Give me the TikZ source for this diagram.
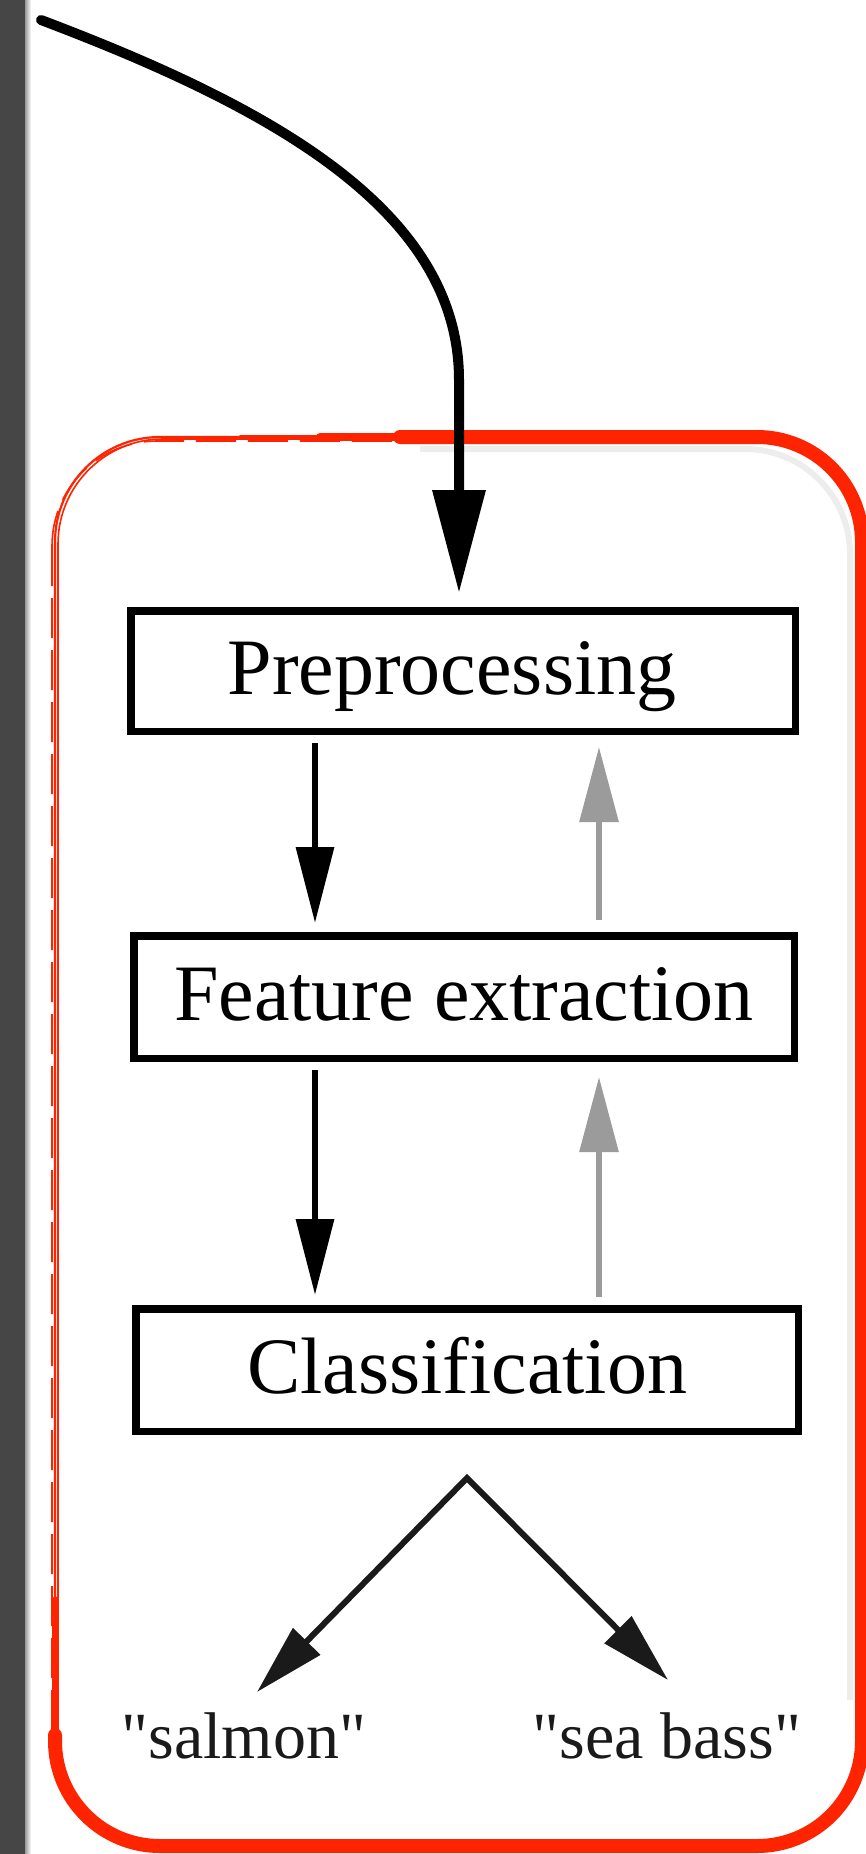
\documentclass[tikz,border=0pt]{standalone}
\usepackage{fontspec}
\setmainfont{Liberation Serif}
\newfontfamily\plainquotes{Liberation Serif}[Ligatures=TeXOff]
\usetikzlibrary{arrows.meta}

\definecolor{sketchred}{RGB}{255,36,0}
\definecolor{barGray}{RGB}{70,70,70}
\definecolor{fbGray}{RGB}{155,155,155}
\definecolor{inkBlack}{RGB}{26,26,26}

\begin{document}
\begin{tikzpicture}[x=1pt, y=-1pt,
  stage/.style={draw=black, line width=7.5pt, rectangle, inner sep=0pt,
    font=\fontsize{80}{90}\selectfont, text height=60pt, text depth=14pt},
  flow/.style={draw=black, line width=6.5pt, -{Triangle[length=76pt,width=37pt]}},
  feedback/.style={draw=fbGray, line width=6pt, -{Triangle[length=75pt,width=38pt]}},
  decision/.style={draw=inkBlack, line width=6pt, line join=miter,
    {Triangle[length=71pt,width=37pt]}-{Triangle[length=71pt,width=37pt]}},
  outcome/.style={font=\plainquotes\fontsize{66}{70}\selectfont, text=inkBlack, inner sep=0pt, anchor=base},
  redthin/.style={draw=sketchred, line width=2.2pt, rounded corners=105pt},
  redthick/.style={draw=sketchred, line width=14pt, rounded corners=105pt, line cap=round},
]
\useasboundingbox (0,0) rectangle (866,1854);
\fill[white] (0,0) rectangle (866,1854);

% dark strip on the left edge
\fill[barGray] (0,0) rectangle (25,1854);
\shade[left color=barGray!55, right color=white] (25,0) rectangle (31,1854);

% hand-drawn red frame: soft shadow, thin sketch strokes, heavy stroke
\draw[black, opacity=0.07, line width=6pt, rounded corners=105pt]
  (420,449) -- (850,449) -- (850,1700);
\draw[redthin] (55,437) rectangle (862,1846);
\draw[redthin, line width=1.6pt] (58,439) rectangle (860,1848);
\draw[redthin, line width=1.6pt, dash pattern=on 40pt off 12pt] (52,441) rectangle (863,1844);
\draw[sketchred, line width=3pt, line cap=round] (240,436) -- (330,436);
\draw[sketchred, line width=8pt, line cap=round] (320,437) -- (420,437);
\draw[redthick] (400,437) -- (862,437) -- (862,1846) -- (55,1846) -- (55,1735);
\draw[sketchred, line width=7pt, line cap=round] (55,1745) -- (55,1600);

% processing stages
\node[stage, minimum width=664.5pt, minimum height=120.5pt] (pre) at (463,671) {Preprocessing\kern22pt};
\node[stage, minimum width=660.5pt, minimum height=122.5pt] (feat) at (464,997) {Feature extraction};
\node[stage, minimum width=662.5pt, minimum height=122.5pt] (cls) at (467,1370) {Classification};

% outcomes
\node[outcome] (salmon) at (244,1758) {"salmon"};
\node[outcome] (bass) at (667,1758) {"sea bass"};

% helper points
\coordinate (src) at (41,20);
\coordinate (inx) at (459,0);
\coordinate (leftx) at (315,0);
\coordinate (rightx) at (599,0);
\coordinate (split) at (467,1478);
\coordinate (tipS) at (257,1692);
\coordinate (tipB) at (668,1680);

% incoming input
\draw[line width=10pt, line cap=round, -{Triangle[length=103pt,width=51pt]}, shorten >=14pt]
  (src) .. controls (271,107) and (459,210) .. (459,380) -- (pre.north -| inx);

% forward flow
\draw[flow, shorten <=8pt, shorten >=9pt] (pre.south -| leftx) -- (feat.north -| leftx);
\draw[flow, shorten <=8pt, shorten >=10pt] (feat.south -| leftx) -- (cls.north -| leftx);

% feedback
\draw[feedback, shorten <=12pt, shorten >=12pt] (feat.north -| rightx) -- (pre.south -| rightx);
\draw[feedback, shorten <=8pt, shorten >=15pt] (cls.north -| rightx) -- (feat.south -| rightx);

% decision
\draw[decision] (tipS) -- (split) -- (tipB);
\end{tikzpicture}
\end{document}
